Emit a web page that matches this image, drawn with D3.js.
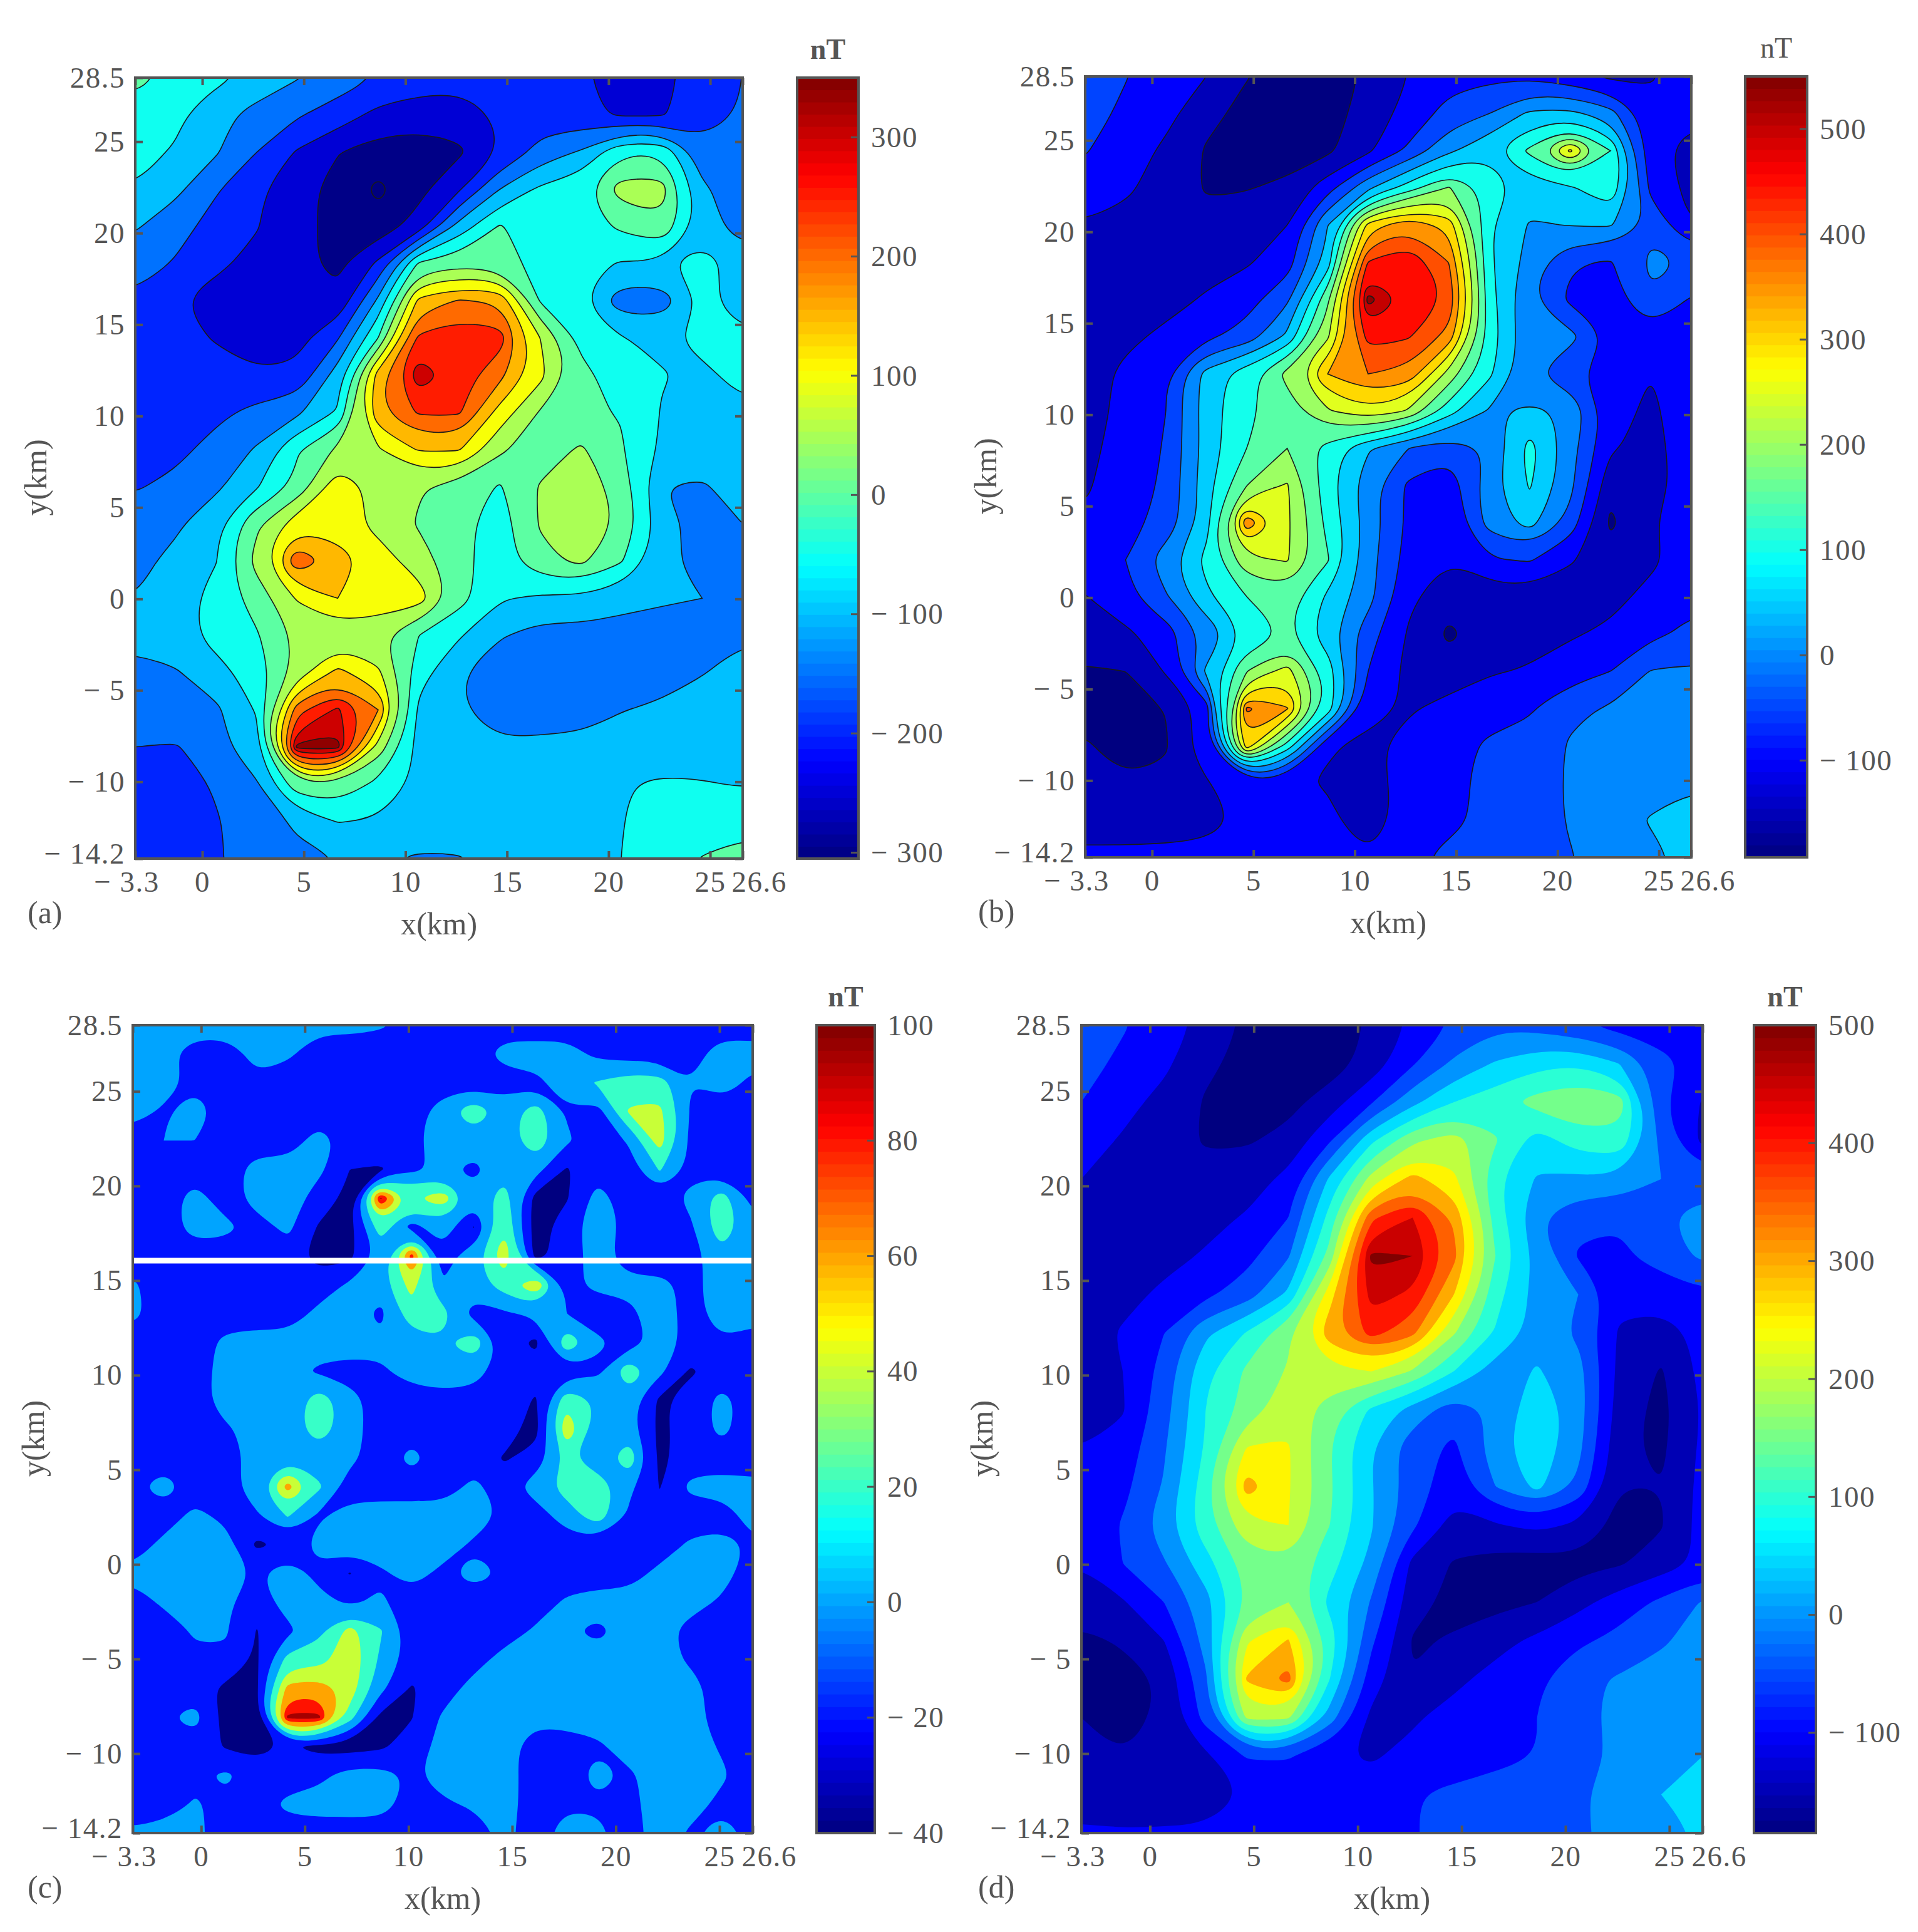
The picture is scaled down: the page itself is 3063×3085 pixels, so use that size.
<!DOCTYPE html>
<html><head><meta charset="utf-8">
<style>html,body{margin:0;background:#fff}svg{display:block}text{font-family:"Liberation Serif",serif;fill:#555}</style>
<script src="https://cdnjs.cloudflare.com/ajax/libs/d3/7.8.5/d3.min.js"></script>
</head><body><svg id="c" width="3063" height="3085"></svg>
<script>
const xTicks=[-3.3,0,5,10,15,20,25,26.6];
const yTicks=[-14.2,-10,-5,0,5,10,15,20,25,28.5];
const cbTicksA=[300,200,100,0,-100,-200,-300];
const cbTicksB=[500,400,300,200,100,0,-100];
const cbTicksC=[100,80,60,40,20,0,-20,-40];
const cbTicksD=[500,400,300,200,100,0,-100];
const levelsA=[-300,-250,-200,-150,-100,-50,0,50,100,150,200,250,300,340];
const levelsB=[-150,-100,-50,0,50,100,150,200,250,300,350,400,450,500,540];
const levelsC=[-20,0,20,40,60,80,95];
const levelsD=[-150,-100,-50,0,50,100,150,200,250,300,350,400,450,500];
const gridA=[
[15,-15,-38,-65,-97,-125,-152,-170,-180,-190,-192,-196,-212,-212,-180,-150],
[-22,-38,-84,-118,-145,-172,-215,-230,-228,-192,-178,-186,-208,-205,-172,-145],
[-35,-55,-95,-150,-205,-248,-272,-272,-258,-200,-130,-95,-5,-5,-135,-145],
[-52,-88,-145,-190,-235,-265,-312,-265,-205,-100,-40,-15,72,72,-90,-130],
[-95,-130,-170,-197,-235,-265,-280,-228,-80,5,-30,-25,10,38,-75,-125],
[-125,-155,-190,-215,-240,-260,-190,10,30,25,-20,-35,-55,-55,-30,-70],
[-160,-195,-220,-240,-245,-240,-90,165,205,190,-5,-50,-128,-126,-47,-56],
[-170,-180,-205,-225,-215,-155,0,262,285,275,100,-15,-48,-60,-35,-48],
[-165,-170,-175,-195,-190,-75,175,330,275,215,115,15,-25,-47,-60,-35],
[-175,-172,-163,-135,-110,-45,190,258,258,130,45,5,-2,-53,-75,-60],
[-170,-165,-130,-95,-5,60,95,155,155,60,20,58,5,-58,-65,-60],
[-155,-135,-110,-55,15,130,85,55,30,-5,55,80,30,-100,-108,-70],
[-120,-110,-60,40,130,125,85,45,15,-25,55,85,42,-75,-120,-100],
[-115,-85,-52,70,240,175,125,75,15,-25,35,62,5,-90,-115,-115],
[-100,-75,-30,20,105,150,135,125,20,-45,-60,-60,-85,-95,-100,-103],
[-90,-70,-35,-5,60,70,60,0,-45,-95,-120,-120,-118,-118,-118,-105],
[-110,-105,-65,-30,70,165,110,-30,-95,-135,-135,-135,-130,-125,-102,-85],
[-120,-110,-110,-45,230,310,200,-60,-95,-125,-130,-130,-102,-90,-80,-75],
[-150,-155,-115,-70,355,355,80,-70,-90,-92,-85,-80,-75,-70,-65,-65],
[-170,-172,-145,-105,35,40,-15,-62,-70,-72,-72,-70,-52,-45,-48,-52],
[-170,-172,-153,-130,-90,-48,-55,-75,-75,-75,-72,-70,-52,-25,-30,-20],
[-170,-170,-155,-130,-112,-100,-95,-105,-103,-85,-80,-70,-50,-25,3,20]];
const gridB=[
[-15,-48,-70,-100,-148,-165,-165,-145,-100,-70,-62,-60,-85,-110,-105,-75],
[-30,-60,-85,-135,-165,-175,-175,-125,-85,-30,0,60,65,20,-85,-90],
[-47,-75,-110,-155,-170,-172,-160,-110,-40,40,90,160,310,150,-85,-115],
[-65,-92,-120,-155,-152,-140,-70,40,125,205,130,75,90,145,-65,-115],
[-105,-115,-130,-135,-130,-100,50,320,390,330,105,45,52,55,-10,-100],
[-115,-120,-125,-115,-105,-75,70,455,490,400,110,30,-45,-55,10,-5],
[-125,-125,-115,-95,-70,-10,190,555,490,445,120,5,-60,-75,-5,-55],
[-125,-110,-90,-60,-30,60,240,470,455,380,130,10,15,-55,-70,-60],
[-120,-90,-52,70,130,215,350,400,385,230,110,10,-40,-75,-100,-70],
[-115,-90,-50,75,140,175,245,290,245,120,45,58,44,-80,-110,-70],
[-110,-85,-45,70,150,200,130,55,0,-30,5,120,20,-95,-115,-75],
[-105,-80,-40,80,200,255,120,20,-60,-85,30,105,15,-135,-120,-75],
[-95,-65,-35,75,385,260,135,30,-60,-90,20,70,-20,-160,-105,-70],
[-85,-50,30,115,235,255,155,20,-70,-100,-55,-45,-95,-125,-110,-75],
[-102,-65,-5,90,150,175,90,20,-90,-130,-130,-125,-125,-115,-85,-60],
[-125,-110,-75,10,105,155,70,-30,-105,-160,-125,-120,-105,-90,-60,-40],
[-155,-150,-95,60,200,270,130,-50,-115,-125,-105,-95,-75,-50,3,8],
[-165,-170,-148,-80,410,355,130,-85,-105,-85,-62,-55,-10,5,12,20],
[-145,-170,-155,-60,330,130,-95,-110,-85,-62,-45,-35,5,15,20,30],
[-130,-145,-140,-105,-60,-90,-105,-125,-75,-55,-45,-35,8,15,25,40],
[-110,-120,-125,-115,-90,-85,-85,-135,-70,-55,-45,-30,5,20,55,80],
[-95,-90,-85,-85,-85,-85,-85,-95,-55,-45,-35,-25,-3,20,35,70]];
const gridC=[
[8,8,8,8,8,8,5,5,2,-5,-10,-10,-10,-10,-10,-10,-10,-12,-15,-10,-10],
[10,5,-8,-8,5,3,-10,-10,-10,-10,-10,-10,8,8,8,-5,-10,-10,-8,10,8],
[10,8,-5,-10,-3,-10,-10,-10,-10,-10,-10,-10,-10,-5,10,22,32,30,0,10,-5],
[8,-3,12,-10,-10,-10,-10,-10,-10,-10,10,36,10,30,-2,-8,42,45,-2,-10,-10],
[-10,0,0,-10,-10,-10,8,-8,-10,-5,10,10,10,34,3,-10,2,50,-5,-10,-10],
[-10,-10,-10,-10,8,8,5,-20,-22,-5,5,-5,12,8,-22,-8,-10,22,-5,-10,-10],
[-10,-10,8,-10,8,12,-10,-25,98,38,52,8,30,-28,-22,8,-10,-10,5,30,-5],
[-10,-10,8,5,-8,5,-22,-28,32,-8,12,-21,36,-30,-8,10,-5,-10,-3,34,5],
[-10,-10,-10,-10,-10,-10,-28,-25,5,88,-8,12,56,-28,-10,8,-10,-10,-10,15,3],
[3,-10,-10,-10,-10,-10,-10,3,10,48,0,10,30,58,-5,5,5,5,-5,8,8],
[5,-10,-10,-10,-10,-10,5,10,-5,32,28,-8,-3,5,0,-12,-5,10,-8,10,8],
[-10,-10,-10,5,8,8,8,10,5,10,18,34,-10,-25,36,5,-10,8,-5,-2,-10],
[-5,-10,-10,8,8,8,-3,-8,-3,8,8,8,-10,-10,-8,-5,36,5,-23,-10,-10],
[-10,-10,-10,10,10,5,32,8,-10,-10,-5,-8,-10,-22,34,18,10,-24,-10,5,-8],
[-10,-10,-10,-3,8,8,32,8,-10,-8,-10,-10,-10,-28,58,8,8,-25,-10,5,-10],
[-10,-10,-10,-10,8,18,8,5,-10,6,-10,-10,-22,-12,24,5,36,-25,-10,-10,-10],
[-5,10,-10,-10,14,68,24,-10,-10,-10,-10,5,-10,10,28,34,5,-21,5,8,5],
[-10,-10,5,-5,-3,22,-3,8,10,10,10,10,-3,-10,10,32,-3,-10,-10,-10,8],
[-10,5,10,8,-24,-15,8,10,10,10,10,-3,-10,-10,-10,-10,-10,-10,3,8,-3],
[5,10,10,10,-2,10,-5,-21,-3,8,-5,8,-2,-10,-10,-10,-8,5,8,8,-10],
[-8,3,8,3,-10,8,5,-3,3,-10,-15,-10,-10,-10,3,8,8,8,8,-3,-10],
[-10,-10,2,2,-21,-5,15,48,22,-10,-10,-10,-10,3,3,-5,8,8,-8,-10,-10],
[-10,-10,-3,-3,-23,28,30,55,16,-10,-10,-8,8,3,8,8,8,8,-3,-10,-10],
[-10,-10,-10,-25,-23,68,72,52,5,-22,-10,8,8,8,8,8,8,5,8,-10,-10],
[-10,-3,8,-28,-24,100,100,28,-26,-21,3,8,8,5,8,8,8,8,8,-10,-10],
[-10,-10,-10,-22,-27,-18,-26,-28,-24,-10,6,8,8,-10,-10,-3,8,8,8,-2,-10],
[-10,-10,-5,4,-10,-10,-5,8,8,-3,8,8,8,-10,-10,8,-3,8,8,3,-10],
[-10,-10,2,-5,-10,5,8,8,8,-8,-3,3,8,-10,-3,-3,-5,8,8,-5,-5],
[3,8,5,-10,-10,-10,-10,-10,-10,-10,-10,-10,5,-10,10,5,-10,10,-3,8,-5]];
const gridD=[
[-20,-45,-75,-115,-160,-170,-170,-145,-90,-45,-10,-20,-45,-70,-75,-70],
[-30,-62,-90,-140,-165,-175,-175,-130,-55,10,55,85,95,50,-35,-70],
[-50,-85,-115,-155,-168,-165,-125,-55,35,100,130,170,195,175,-40,-105],
[-80,-105,-130,-155,-155,-135,-55,90,190,225,155,75,125,135,-15,-115],
[-100,-118,-130,-135,-125,-85,60,220,320,260,110,45,40,40,0,-20],
[-115,-120,-125,-115,-95,-50,120,390,450,340,130,5,-40,-45,-5,15],
[-125,-125,-115,-95,-65,-5,170,515,500,365,150,35,-55,-60,-25,10],
[-130,-115,-90,-60,-25,60,280,470,440,300,120,30,0,-85,-85,-60],
[-120,-95,-50,40,105,190,330,420,365,205,95,30,-10,-108,-115,-90],
[-118,-100,-30,90,160,205,235,250,195,100,25,55,20,-115,-155,-85],
[-108,-105,-20,100,170,235,175,90,30,-30,10,85,25,-125,-165,-95],
[-100,-80,-5,105,255,255,150,50,-30,-60,30,85,15,-140,-160,-90],
[-90,-65,5,130,325,255,160,55,-25,-80,0,65,-15,-150,-150,-85],
[-85,-45,30,130,235,250,150,55,-40,-120,-105,-85,-110,-165,-155,-80],
[-98,-50,-5,80,170,190,120,35,-115,-155,-170,-175,-165,-155,-125,-90],
[-125,-105,-50,30,155,200,85,-5,-130,-165,-165,-150,-115,-75,-40,5],
[-160,-145,-100,20,245,305,130,-40,-155,-145,-115,-90,-60,-35,-5,15],
[-175,-165,-145,-10,310,370,100,-75,-148,-110,-85,-60,-10,5,15,25],
[-150,-170,-140,-30,215,210,25,-112,-105,-85,-65,-50,-5,5,15,25],
[-135,-150,-145,-110,-45,-45,-95,-104,-90,-75,-60,-50,-10,5,15,50],
[-115,-135,-145,-150,-95,-85,-85,-85,-52,-40,-35,-25,-3,10,50,85],
[-95,-95,-90,-85,-85,-85,-85,-75,-52,-40,-30,-20,-5,10,25,60]];

const panels=[
 {tag:"(a)",grid:gridA,levels:levelsA,lines:true,range:[-305,350],cbTicks:cbTicksA,px:[216,1186],py:[124,1371],cb:[1273,1371],tagx:44,bold:true},
 {tag:"(b)",grid:gridB,levels:levelsB,lines:true,range:[-192,550],cbTicks:cbTicksB,px:[1733,2701],py:[122,1369],cb:[2787,2886],tagx:1562,bold:false},
 {tag:"(c)",grid:gridC,levels:levelsC,lines:false,range:[-40,100],cbTicks:cbTicksC,px:[212,1202],py:[1637,2927],cb:[1304,1397],tagx:44,bold:true,whiteAt:16.05},
 {tag:"(d)",grid:gridD,levels:levelsD,lines:false,range:[-185,500],cbTicks:cbTicksD,px:[1727,2719],py:[1637,2927],cb:[2801,2900],tagx:1562,bold:true}
];
const clamp=v=>Math.max(0,Math.min(1,v));
const jet=t=>d3.rgb(255*clamp(1.5-Math.abs(4*t-3)),255*clamp(1.5-Math.abs(4*t-2)),255*clamp(1.5-Math.abs(4*t-1))).formatRgb();
const svg=d3.select("#c");
const fmt=d=>d<0?"\u2212 "+Math.abs(d):String(d);
const AX="#555";
panels.forEach((p,pi)=>{
 const x=d3.scaleLinear([-3.3,26.6],p.px), y=d3.scaleLinear([-14.2,28.5],[p.py[1],p.py[0]]);
 const ny=p.grid.length,nx=p.grid[0].length;
 const colKm=d3.scaleLinear([0,nx-1],[-3.3,26.6]), rowKm=d3.scaleLinear([0,ny-1],[28.5,-14.2]);
 // pad by one repeated cell so contour closures fall outside the clipped plot
 const padded=[p.grid[0],...p.grid,p.grid[ny-1]].map(r=>[r[0],...r,r[nx-1]]);
 const values=d3.merge(padded);
 const contours=d3.contours().size([nx+2,ny+2]).thresholds(p.levels)(values);
 const color=d3.scaleLinear(p.range,[0,1]);
 const line=d3.line().x(c=>x(colKm(c[0]-1.5))).y(c=>y(rowKm(c[1]-1.5))).curve(d3.curveBasisClosed);
 const pathOf=g=>g.coordinates.map(poly=>poly.map(r=>line(r.slice(0,-1))).join("")).join("");
 const clip="clip"+pi;
 svg.append("clipPath").attr("id",clip).append("rect").attr("x",p.px[0]).attr("y",p.py[0]).attr("width",p.px[1]-p.px[0]).attr("height",p.py[1]-p.py[0]);
 const g=svg.append("g").attr("clip-path",`url(#${clip})`);
 g.append("rect").attr("x",p.px[0]).attr("y",p.py[0]).attr("width",p.px[1]-p.px[0]).attr("height",p.py[1]-p.py[0]).attr("fill",jet(0));
 g.selectAll("path").data(contours).join("path").attr("d",pathOf).attr("fill-rule","evenodd")
  .attr("fill",d=>jet(color(d.value))).attr("stroke",p.lines?"#1a1a1a":"none").attr("stroke-width",p.lines?1.6:0);
 if(p.whiteAt!==undefined) g.append("line").attr("x1",p.px[0]).attr("x2",p.px[1]).attr("y1",y(p.whiteAt)).attr("y2",y(p.whiteAt)).attr("stroke","#fff").attr("stroke-width",9);
 // axes
 const styl=s=>{s.select(".domain").remove();s.selectAll(".tick line").attr("stroke",AX).attr("stroke-width",4);s.selectAll("text").attr("font-size",47).attr("letter-spacing",1.5).attr("fill",AX).attr("font-family",'"Liberation Serif",serif');};
 const b=svg.append("g").attr("transform",`translate(0,${p.py[1]})`).call(d3.axisBottom(x).tickValues(xTicks).tickFormat(fmt).tickSize(-12).tickPadding(20)).call(styl);
 b.selectAll("text").attr("dx",d=>d===26.6?26:d===-3.3?-14:0);
 svg.append("g").attr("transform",`translate(0,${p.py[0]})`).call(d3.axisTop(x).tickValues(xTicks).tickFormat("").tickSize(-12)).call(styl);
 const l=svg.append("g").attr("transform",`translate(${p.px[0]},0)`).call(d3.axisLeft(y).tickValues(yTicks).tickFormat(fmt).tickSize(-12).tickPadding(16)).call(styl);
 l.selectAll("text").attr("dy",d=>d===-14.2?"0.16em":"0.32em");
 svg.append("g").attr("transform",`translate(${p.px[1]},0)`).call(d3.axisRight(y).tickValues(yTicks).tickFormat("").tickSize(-12)).call(styl);
 svg.append("rect").attr("x",p.px[0]).attr("y",p.py[0]).attr("width",p.px[1]-p.px[0]).attr("height",p.py[1]-p.py[0]).attr("fill","none").attr("stroke",AX).attr("stroke-width",4);
 // labels
 const mid=(p.px[0]+p.px[1])/2, ym=(p.py[0]+p.py[1])/2;
 svg.append("text").attr("x",mid).attr("y",p.py[1]+121).attr("text-anchor","middle").attr("font-size",50).attr("fill","#444").text("x(km)");
 svg.append("text").attr("transform",`translate(${p.px[0]-142},${ym+15}) rotate(-90)`).attr("text-anchor","middle").attr("font-size",50).attr("fill","#444").text("y(km)");
 svg.append("text").attr("x",p.tagx).attr("y",p.py[1]+103).attr("font-size",50).attr("fill","#444").text(p.tag);
 // colour bar
 const cy=d3.scaleLinear(p.range,[p.py[1],p.py[0]]);
 const bands=d3.range(64);
 svg.append("g").selectAll("rect").data(bands).join("rect").attr("x",p.cb[0]).attr("width",p.cb[1]-p.cb[0])
  .attr("y",i=>p.py[1]-(i+1)*(p.py[1]-p.py[0])/64-0.5).attr("height",(p.py[1]-p.py[0])/64+1).attr("fill",i=>jet((i+0.5)/64));
 svg.append("g").attr("transform",`translate(${p.cb[1]},0)`).call(d3.axisRight(cy).tickValues(p.cbTicks).tickFormat(fmt).tickSize(0).tickPadding(20)).call(styl);
 svg.append("g").selectAll("line").data(p.cbTicks).join("line").attr("x1",p.cb[1]-12).attr("x2",p.cb[1]).attr("y1",cy).attr("y2",cy).attr("stroke",AX).attr("stroke-width",3);
 svg.append("rect").attr("x",p.cb[0]).attr("y",p.py[0]).attr("width",p.cb[1]-p.cb[0]).attr("height",p.py[1]-p.py[0]).attr("fill","none").attr("stroke",AX).attr("stroke-width",4);
 svg.append("text").attr("x",(p.cb[0]+p.cb[1])/2).attr("y",p.py[0]-30).attr("text-anchor","middle").attr("font-size",46).attr("font-weight",p.bold?"bold":"normal").attr("fill","#333").text("nT");
});
</script></body></html>
